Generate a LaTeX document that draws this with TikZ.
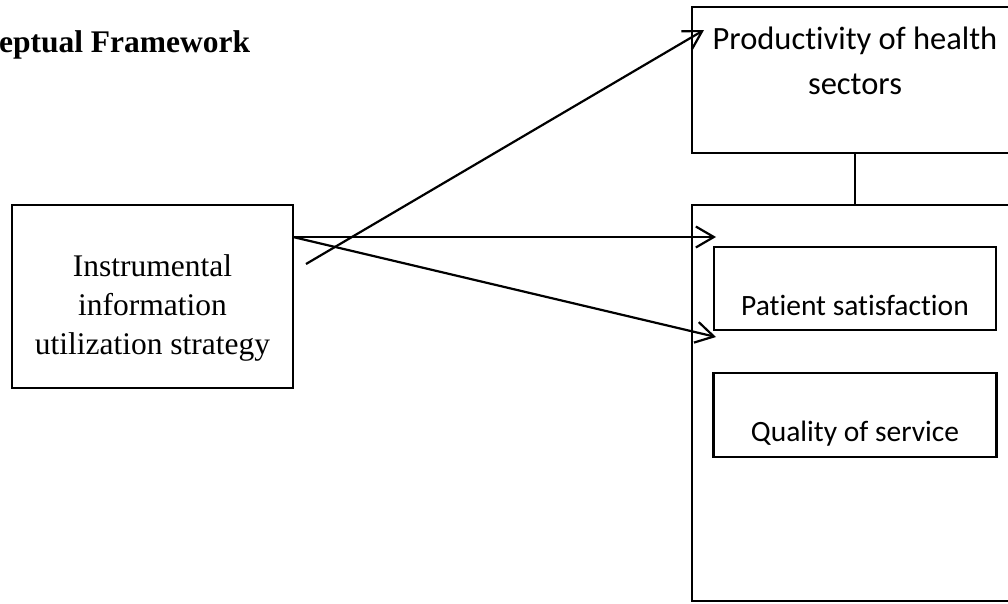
\documentclass[tikz,border=0pt]{standalone}
\usepackage{fontspec}
\setmainfont{Liberation Serif}
\newfontfamily\calfont[Ligatures=NoCommon]{Carlito}
\usetikzlibrary{arrows.meta,positioning}

\begin{document}
\begin{tikzpicture}[x=1pt,y=-1pt,line width=2.2pt,
  >={Straight Barb[length=18pt,width=21pt]},
  box/.style={draw,rectangle,inner sep=0pt},
  serif/.style={font=\fontsize{31.5}{39}\selectfont,align=center,inner sep=0pt},
  sans/.style={font=\calfont\fontsize{32.5}{45}\selectfont,align=center,inner sep=0pt},
  small/.style={font=\calfont\fontsize{29.5}{35}\selectfont,inner sep=0pt}]
  \useasboundingbox (0,0) rectangle (1008,603);
  \clip (0,0) rectangle (1008,603);
  \node[anchor=base west,inner sep=0pt,font=\bfseries\fontsize{31.5}{37}\selectfont] (title) at (-2,52) {eptual Framework};
  % left block
  \node[box,minimum width=281pt,minimum height=183pt] (strat) at (152.5,296.5) {};
  \node[serif] (strattxt) at (152.5,308) {Instrumental\\information\\utilization strategy};
  % right blocks
  \node[box,minimum width=326pt,minimum height=146pt] (prod) at (855,80) {};
  \node[sans] (prodtxt) at (855,61) {Productivity of health\\sectors};
  \node[box,minimum width=326pt,minimum height=396pt] (outc) at (855,403) {};
  \node[box,minimum width=282pt,minimum height=83pt] (sat) at (855,288.5) {};
  \node[small,anchor=base] (sattxt) at (855,315) {Patient satisfaction};
  \node[box,minimum width=283pt,minimum height=84pt] (qual) at (855,415) {};
  \node[small,anchor=base] (qualtxt) at (855,441) {Quality of service};
  \draw (prod.south) -- (outc.north);
  % arrows
  \coordinate (start) at (306,264);
  \coordinate (out) at (293,237);
  \coordinate (tipprod) at (704,30);
  \coordinate (tipoutc) at (716,237);
  \coordinate (tipsat) at (716,337);
  \draw[->] (start) -- (tipprod);
  \draw[->] (out) -- (tipoutc);
  \draw[->] (out) -- (tipsat);
\end{tikzpicture}
\end{document}
